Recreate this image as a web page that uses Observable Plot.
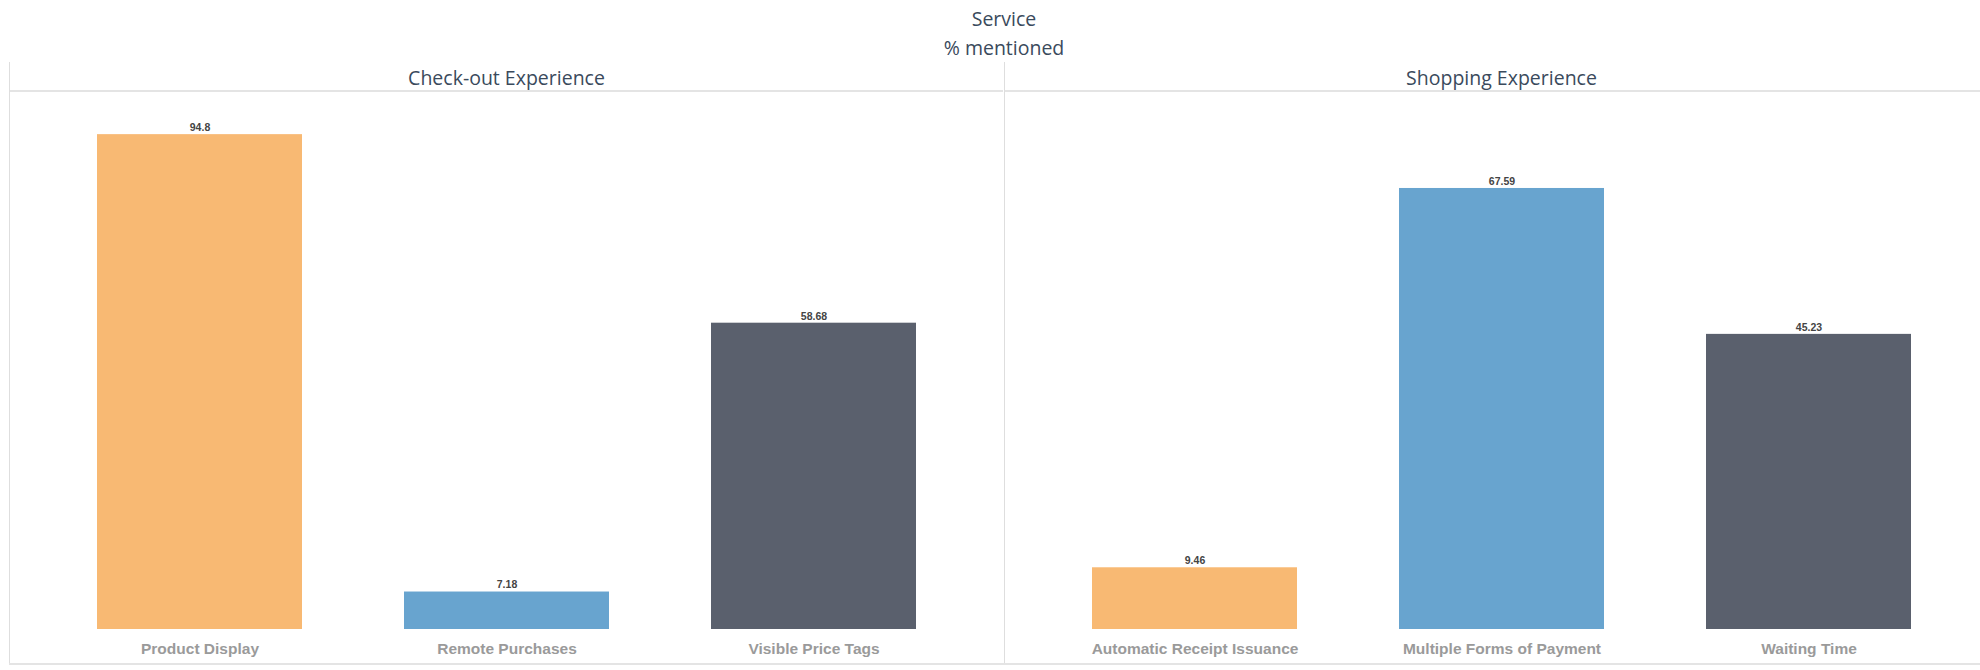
<!DOCTYPE html>
<html>
<head>
<meta charset="utf-8">
<script src="https://cdn.jsdelivr.net/npm/d3@7"></script>
<script src="https://cdn.jsdelivr.net/npm/@observablehq/plot@0.6"></script>
<style>
  html, body { margin: 0; padding: 0; background: #fff; overflow: hidden; }
  #root { position: relative; width: 1980px; height: 670px; overflow: hidden; font-family: "Open Sans", sans-serif; }
  .title { position: absolute; left: 10px; width: 1988px; text-align: center; font-size: 19.5px; line-height: 24px; color: #3a4a5c; }
  .panel { position: absolute; top: 62px; width: 994px; height: 602px; border-left: 1px solid #dedede; box-sizing: border-box; }
  .head { height: 30px; line-height: 32px; text-align: center; font-size: 19.5px; color: #3a4a5c; border-bottom: 2px solid #e4e4e4; box-sizing: border-box; }
  .bottomline { position: absolute; left: 9px; top: 663px; width: 1980px; height: 2px; background: #e4e4e4; }
  .panel svg { display: block; }
</style>
</head>
<body>
<div id="root">
  <div class="title" style="top:7px">Service</div>
  <div class="title" style="top:36px">% mentioned</div>
  <div class="panel" id="p0" style="left:9px"><div class="head" id="h0"></div></div>
  <div class="panel" id="p1" style="left:1004px"><div class="head" id="h1"></div></div>
  <div class="bottomline"></div>
</div>
<script>
// ---- data ----
const groups = ["Check-out Experience", "Shopping Experience"];
const checkoutCategories = ["Product Display", "Remote Purchases", "Visible Price Tags"];
const checkoutValues = [94.8, 7.18, 58.68];
const shoppingCategories = ["Automatic Receipt Issuance", "Multiple Forms of Payment", "Waiting Time"];
const shoppingValues = [9.46, 67.59, 45.23];
const yMax = [100, 80];

// ---- style ----
const palette = ["#f8b973", "#68a4cf", "#5a606d"];

function panel(cats, vals, ymax) {
  const data = cats.map((c, i) => ({category: c, value: vals[i], slot: i}));
  return Plot.plot({
    width: 993,
    height: 572,
    marginTop: 15,
    marginBottom: 35,
    marginLeft: 0,
    marginRight: 0,
    style: {fontFamily: "'Liberation Sans', Arial, sans-serif", background: "transparent"},
    x: {domain: cats, paddingInner: 0.331, paddingOuter: 0.279, label: null},
    y: {domain: [0, ymax], axis: null},
    color: {domain: [0, 1, 2], range: palette},
    marks: [
      Plot.barY(data, {x: "category", y: "value", fill: d => d.slot}),
      Plot.text(data, {x: "category", y: "value", text: d => String(d.value), dy: -7,
        fontSize: 10.5, fontWeight: "bold", fill: "#444"}),
      Plot.axisX({tickSize: 0, tickPadding: 13, fontSize: 15.5, fontWeight: "bold", fill: "#9a9a9a", label: null})
    ]
  });
}

document.getElementById("h0").textContent = groups[0];
document.getElementById("h1").textContent = groups[1];
document.getElementById("p0").appendChild(panel(checkoutCategories, checkoutValues, yMax[0]));
document.getElementById("p1").appendChild(panel(shoppingCategories, shoppingValues, yMax[1]));
</script>
</body>
</html>
